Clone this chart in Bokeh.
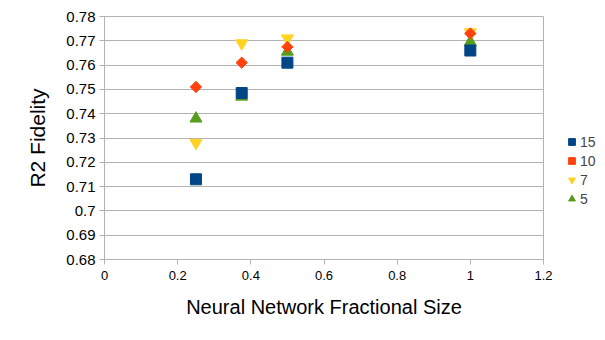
import math
from bokeh.plotting import figure
from bokeh.models import Range1d, FixedTicker, Legend, LegendItem
from bokeh.embed import file_html
from bokeh.resources import INLINE

# Data
x_vals = [0.25, 0.375, 0.5, 1.0]
s15 = [0.713, 0.7485, 0.761, 0.766]
s10 = [0.751, 0.761, 0.7675, 0.773]
s7 = [0.728, 0.769, 0.771, 0.7735]
s5 = [0.738, 0.747, 0.7655, 0.7695]
series_names = ["15", "10", "7", "5"]
x_ticks = [0, 0.2, 0.4, 0.6, 0.8, 1.0, 1.2]
x_tick_labels = ["0", "0.2", "0.4", "0.6", "0.8", "1", "1.2"]
y_ticks = [0.68, 0.69, 0.70, 0.71, 0.72, 0.73, 0.74, 0.75, 0.76, 0.77, 0.78]
y_tick_labels = ["0.68", "0.69", "0.7", "0.71", "0.72", "0.73", "0.74", "0.75", "0.76", "0.77", "0.78"]

FONT = "Liberation Sans"
GRID = "#b3b3b3"

p = figure(output_backend="svg", toolbar_location=None,
           x_range=Range1d(0, 1.2), y_range=Range1d(0.68, 0.78),
           frame_width=439, frame_height=243,
           min_border_left=104, min_border_top=16, min_border_right=10, min_border_bottom=81)

p.background_fill_color = "white"
p.border_fill_color = "white"
p.outline_line_color = GRID
p.outline_line_width = 1

p.xgrid.grid_line_color = None
p.ygrid.grid_line_color = GRID
p.ygrid.grid_line_width = 1

p.xaxis.ticker = FixedTicker(ticks=x_ticks)
p.xaxis.major_label_overrides = {t: l for t, l in zip(x_ticks, x_tick_labels)}
p.yaxis.ticker = FixedTicker(ticks=y_ticks)
p.yaxis.major_label_overrides = {t: l for t, l in zip(y_ticks, y_tick_labels)}

for ax in (p.xaxis[0], p.yaxis[0]):
    ax.axis_line_color = GRID
    ax.major_tick_line_color = GRID
    ax.major_tick_in = 0
    ax.major_tick_out = 5
    ax.minor_tick_line_color = None
    ax.major_label_text_font = FONT
    ax.major_label_text_color = "black"
    ax.axis_label_text_font = FONT
    ax.axis_label_text_font_style = "normal"
    ax.axis_label_text_color = "black"

p.xaxis.major_label_text_font_size = "13px"
p.yaxis.major_label_text_font_size = "15px"
p.xaxis.major_label_standoff = 6
p.yaxis.major_label_standoff = 4
p.xaxis.axis_label = "Neural Network Fractional Size"
p.yaxis.axis_label = "R2 Fidelity"
p.xaxis.axis_label_text_font_size = "20px"
p.yaxis.axis_label_text_font_size = "21px"
p.xaxis.axis_label_standoff = 13
p.yaxis.axis_label_standoff = 14

r5 = p.scatter(x_vals, s5, marker="triangle", size=12, fill_color="#579d1c", line_color="#579d1c")
r7 = p.scatter(x_vals, s7, marker="inverted_triangle", size=12, fill_color="#ffd320", line_color="#ffd320")
r10 = p.scatter(x_vals, s10, marker="square", size=8, angle=math.pi / 4,
                fill_color="#ff420e", line_color="#ff420e")
r15 = p.scatter(x_vals, s15, marker="square", size=11, fill_color="#004586", line_color="#004586")

legend = Legend(items=[LegendItem(label=series_names[0], renderers=[r15]),
                       LegendItem(label=series_names[1], renderers=[r10]),
                       LegendItem(label=series_names[2], renderers=[r7]),
                       LegendItem(label=series_names[3], renderers=[r5])],
                location=(20, 52), orientation="vertical",
                label_text_font=FONT, label_text_font_size="14px",
                glyph_width=17, glyph_height=17, label_standoff=0,
                spacing=2, padding=0, margin=0, border_line_color=None,
                background_fill_alpha=0, label_height=17)
p.add_layout(legend, "right")

open("out.html", "w").write(file_html(p, INLINE))
